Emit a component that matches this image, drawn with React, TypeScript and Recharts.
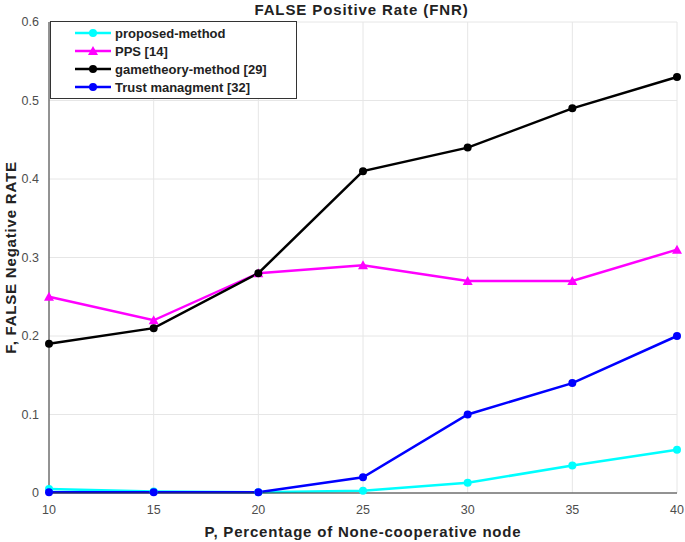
import { LineChart, Line, XAxis, YAxis, CartesianGrid, Label } from 'recharts'

const xValues = [10, 15, 20, 25, 30, 35, 40]
const proposedMethod = [0.005, 0.002, 0.001, 0.003, 0.013, 0.035, 0.055]
const pps = [0.25, 0.22, 0.28, 0.29, 0.27, 0.27, 0.31]
const gametheoryMethod = [0.19, 0.21, 0.28, 0.41, 0.44, 0.49, 0.53]
const trustManagment = [0.001, 0.001, 0.001, 0.02, 0.1, 0.14, 0.2]
const xTicks = [10, 15, 20, 25, 30, 35, 40]
const yTicks = [0, 0.1, 0.2, 0.3, 0.4, 0.5, 0.6]

const data = xValues.map((x, i) => ({
  x,
  proposed: proposedMethod[i],
  pps: pps[i],
  game: gametheoryMethod[i],
  trust: trustManagment[i],
}))

const FONT = '"Liberation Sans", Arial, sans-serif'
const TICK = { fontSize: 12.5, fill: '#4d4d4d', fontFamily: FONT }
const LABEL_STYLE = { fontSize: 15, fontWeight: 'bold', fill: '#222', fontFamily: FONT, letterSpacing: 0.8 }

const series = [
  { key: 'proposed', name: 'proposed-method', color: '#00ffff', shape: 'circle' },
  { key: 'pps', name: 'PPS [14]', color: '#ff00ff', shape: 'triangle' },
  { key: 'game', name: 'gametheory-method [29]', color: '#000000', shape: 'circle' },
  { key: 'trust', name: 'Trust managment [32]', color: '#0000ff', shape: 'circle' },
]

function Marker(props: any) {
  const { cx, cy, fill, shape } = props
  if (cx == null || cy == null) return null
  if (shape === 'triangle') {
    return <polygon points={`${cx},${cy - 5} ${cx - 5},${cy + 4} ${cx + 5},${cy + 4}`} fill={fill} />
  }
  return <circle cx={cx} cy={cy} r={4} fill={fill} />
}

function LegendBox() {
  return (
    <div
      style={{
        position: 'absolute',
        left: 50,
        top: 21,
        width: 245,
        height: 76,
        border: '1px solid #333',
        background: '#fff',
        fontFamily: FONT,
        fontSize: 13,
        fontWeight: 'bold',
        color: '#222',
      }}
    >
      {series.map((s, i) => (
        <div key={s.key} style={{ position: 'absolute', left: 24, top: 3 + i * 18, height: 16, display: 'flex', alignItems: 'center' }}>
          <svg width={38} height={16}>
            <line x1={0} y1={8} x2={36} y2={8} stroke={s.color} strokeWidth={2.5} />
            <Marker cx={18} cy={8} fill={s.color} shape={s.shape} />
          </svg>
          <span style={{ marginLeft: 2 }}>{s.name}</span>
        </div>
      ))}
    </div>
  )
}

export default function App() {
  return (
    <div style={{ position: 'absolute', left: 0, top: 0, width: 685, height: 542, background: '#fff' }}>
      <div
        style={{
          position: 'absolute',
          left: 0,
          width: 685,
          top: 1,
          textAlign: 'center',
          paddingLeft: 38,
          boxSizing: 'border-box',
          fontFamily: FONT,
          fontSize: 15,
          fontWeight: 'bold',
          letterSpacing: 0.9,
          color: '#222',
        }}
      >
        FALSE Positive Rate (FNR)
      </div>
      <LineChart width={685} height={542} data={data} margin={{ top: 22, right: 8, bottom: 0, left: 0 }}>
        <CartesianGrid stroke="#e6e6e6" />
        <XAxis
          dataKey="x"
          type="number"
          domain={[10, 40]}
          ticks={xTicks}
          height={49}
          tick={TICK}
          tickLine={false}
          tickMargin={6}
          axisLine={{ stroke: '#333' }}
        >
          <Label value="P, Percentage of None-cooperative node" position="insideBottom" offset={5} style={LABEL_STYLE} />
        </XAxis>
        <YAxis
          type="number"
          domain={[0, 0.6]}
          ticks={yTicks}
          width={49}
          tick={TICK}
          tickLine={false}
          tickMargin={4}
          axisLine={{ stroke: '#333' }}
        >
          <Label
            value="F, FALSE Negative RATE"
            angle={-90}
            position="insideLeft"
            offset={11}
            style={{ ...LABEL_STYLE, textAnchor: 'middle' }}
          />
        </YAxis>
        {series.map((s) => (
          <Line
            key={s.key}
            dataKey={s.key}
            name={s.name}
            stroke={s.color}
            strokeWidth={2.5}
            type="linear"
            isAnimationActive={false}
            dot={(p: any) => <Marker key={`${s.key}-${p.index}`} cx={p.cx} cy={p.cy} fill={s.color} shape={s.shape} />}
            activeDot={false}
          />
        ))}
      </LineChart>
      <LegendBox />
    </div>
  )
}
